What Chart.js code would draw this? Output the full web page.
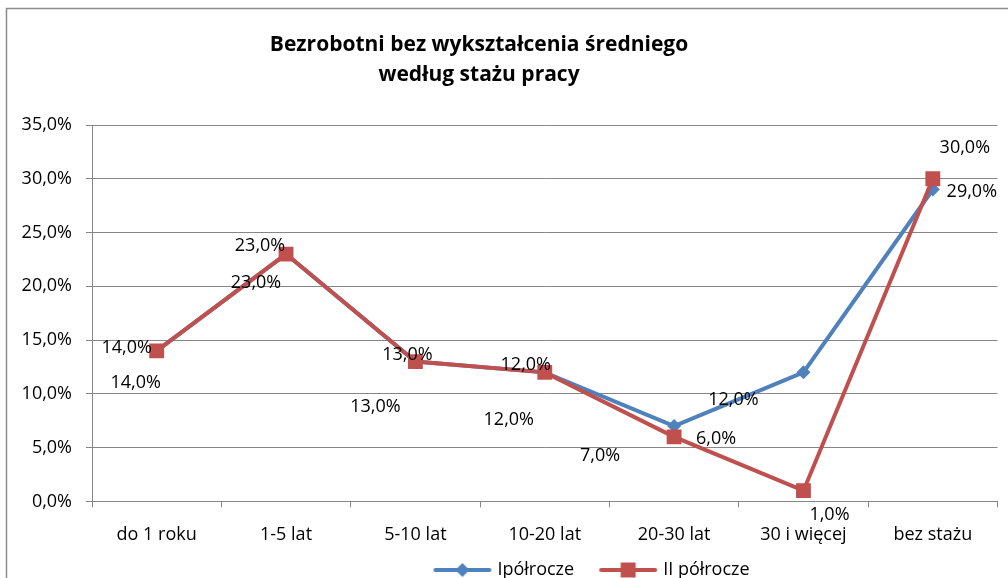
<!DOCTYPE html>
<html>
<head>
<meta charset="utf-8">
<script src="https://cdn.jsdelivr.net/npm/chart.js@4.4.0/dist/chart.umd.min.js"></script>
<style>
  html, body { margin: 0; padding: 0; background: #fff; overflow: hidden; }
  #wrap { position: relative; width: 1008px; height: 578px; }
</style>
</head>
<body>
<div id="wrap"><canvas id="wykres" width="1008" height="578"></canvas></div>
<script>
// dane
const kategorie = ['do 1 roku', '1-5 lat', '5-10 lat', '10-20 lat', '20-30 lat', '30 i więcej', 'bez stażu'];
const polrocze1 = [14, 23, 13, 12, 7, 12, 29];
const polrocze2 = [14, 23, 13, 12, 6, 1, 30];
const tickiY = [0, 5, 10, 15, 20, 25, 30, 35];
const tytul = ['Bezrobotni bez wykształcenia średniego', 'według stażu pracy'];

const NIEBIESKI = '#4F81BD';
const CZERWONY = '#C0504D';
const SIATKA = '#868686';
const FONT = '"Open Sans", "Liberation Sans", sans-serif';

function formatProcent(v) {
    return v.toFixed(1).replace('.', ',') + '%';
}

// znacznik do legendy: linia z symbolem na środku (jak w Excelu)
function znacznikLegendy(kolor, ksztalt) {
    const c = document.createElement('canvas');
    c.width = 60;
    c.height = 18;
    const g = c.getContext('2d');
    g.strokeStyle = kolor;
    g.lineWidth = 4;
    g.lineCap = 'round';
    g.beginPath();
    g.moveTo(3, 9);
    g.lineTo(57, 9);
    g.stroke();
    g.fillStyle = kolor;
    g.beginPath();
    if (ksztalt === 'romb') {
        g.moveTo(30, 2); g.lineTo(37, 9); g.lineTo(30, 16); g.lineTo(23, 9);
    } else {
        g.rect(22.5, 1.5, 15, 15);
    }
    g.closePath();
    g.fill();
    return c;
}

const znacznikiLegendy = [znacznikLegendy(NIEBIESKI, 'romb'), znacznikLegendy(CZERWONY, 'kwadrat')];

// ramka wokół wykresu
const ramka = {
    id: 'ramka',
    beforeDraw(chart) {
        const ctx = chart.ctx;
        ctx.save();
        ctx.fillStyle = '#fff';
        ctx.fillRect(0, 0, chart.width, chart.height);
        ctx.strokeStyle = '#8c8c8c';
        ctx.lineWidth = 1.5;
        ctx.strokeRect(6.5, 8.5, 1200, 700);
        ctx.restore();
    }
};

// przesunięcie tytułu i legendy jak w oryginale
const przesun = {
    id: 'przesun',
    afterLayout(chart) {
        if (chart.titleBlock) {
            chart.titleBlock.left -= 24;
            chart.titleBlock.right -= 24;
        }
        if (chart.legend) {
            chart.legend.left += 90;
            chart.legend.right += 90;
            chart.legend.top += 11;
            chart.legend.bottom += 11;
        }
        // oś X: etykiety nie mogą być przycięte
        const x = chart.scales.x;
        x.bottom = chart.height;
        x.height = x.bottom - x.top;
    }
};

// etykiety wartości przy punktach
const etykiety = {
    id: 'etykiety',
    afterDatasetsDraw(chart, args, opts) {
        const ctx = chart.ctx;
        ctx.save();
        ctx.font = '18px ' + FONT;
        ctx.fillStyle = '#000';
        ctx.textAlign = 'center';
        ctx.textBaseline = 'middle';
        chart.data.datasets.forEach((ds, i) => {
            const meta = chart.getDatasetMeta(i);
            const off = opts.przesuniecia[i];
            meta.data.forEach((pt, j) => {
                ctx.fillText(formatProcent(ds.data[j]), pt.x + off[j][0], pt.y + off[j][1]);
            });
        });
        ctx.restore();
    }
};

const ctx = document.getElementById('wykres').getContext('2d');
new Chart(ctx, {
    type: 'line',
    data: {
        labels: kategorie,
        datasets: [{
            label: 'Ipółrocze',
            data: polrocze1,
            borderColor: NIEBIESKI,
            backgroundColor: NIEBIESKI,
            borderWidth: 4,
            pointStyle: 'rectRot',
            pointRadius: 7,
            pointBorderWidth: 0,
            pointBackgroundColor: NIEBIESKI,
            tension: 0,
            order: 1
        }, {
            label: 'II półrocze',
            data: polrocze2,
            borderColor: CZERWONY,
            backgroundColor: CZERWONY,
            borderWidth: 4,
            pointStyle: 'rect',
            pointRadius: 10.5,
            pointBorderWidth: 0,
            pointBackgroundColor: CZERWONY,
            tension: 0,
            order: 0
        }]
    },
    options: {
        responsive: false,
        animation: false,
        events: [],
        layout: { padding: { left: 0, right: 2, top: 0, bottom: 0 } },
        plugins: {
            title: {
                display: true,
                text: tytul,
                color: '#000',
                font: { family: FONT, size: 21, weight: 'bold', lineHeight: '30px' },
                padding: { top: 30, bottom: 35 }
            },
            legend: {
                position: 'bottom',
                labels: {
                    usePointStyle: true,
                    pointStyleWidth: 52,
                    padding: 28,
                    color: '#000',
                    font: { family: FONT, size: 18 },
                    sort: (a, b) => a.datasetIndex - b.datasetIndex,
                    generateLabels(chart) {
                        const items = Chart.defaults.plugins.legend.labels.generateLabels(chart);
                        items.forEach(it => { it.pointStyle = znacznikiLegendy[it.datasetIndex]; });
                        return items;
                    }
                }
            },
            tooltip: { enabled: false },
            etykiety: {
                przesuniecia: [
                    [[-21, 32], [-30, 29], [-40, 45], [-36, 48], [-74, 30], [-70, 28], [39, 2]],
                    [[-30, -3], [-26, -8], [-8, -7], [-19, -7], [42, 2], [26, 24], [32, -31]]
                ]
            }
        },
        scales: {
            x: {
                offset: true,
                afterFit(s) { s.height -= 41; },
                grid: { drawOnChartArea: false, color: SIATKA, tickLength: 6, offset: true },
                border: { color: SIATKA },
                ticks: { color: '#000', padding: 17, font: { family: FONT, size: 18 }, maxRotation: 0 }
            },
            y: {
                min: 0,
                max: 35,
                afterFit(s) { s.width = 92; },
                afterBuildTicks(s) { s.ticks = tickiY.map(v => ({ value: v })); },
                grid: { color: SIATKA, tickLength: 6 },
                border: { color: SIATKA },
                ticks: {
                    color: '#000',
                    padding: 14,
                    font: { family: FONT, size: 18 },
                    callback: v => formatProcent(v)
                }
            }
        }
    },
    plugins: [ramka, przesun, etykiety]
});
</script>
</body>
</html>
